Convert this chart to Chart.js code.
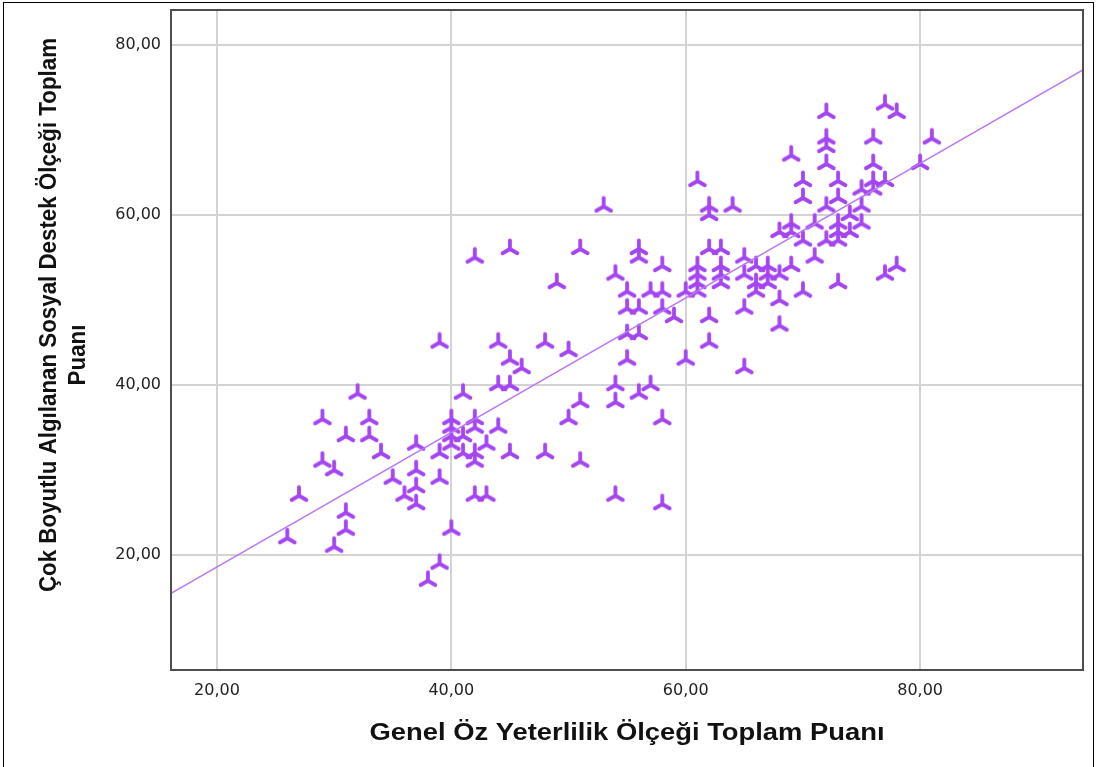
<!DOCTYPE html>
<html>
<head>
<meta charset="utf-8">
<script src="https://cdn.jsdelivr.net/npm/chart.js@4"></script>
<style>
  html, body { margin: 0; padding: 0; background: #fff; }
  #wrap { width: 1096px; height: 767px; }
</style>
</head>
<body>
<div id="wrap"><canvas id="scatter"></canvas></div>
<script>
// Genel Öz Yeterlilik (x) vs Çok Boyutlu Algılanan Sosyal Destek (y)
const selfEfficacy = [
  26, 27, 29, 29, 30, 30, 31, 31, 31, 32, 33, 33, 34, 35, 36, 37, 37, 37, 37, 38,
  39, 39, 39, 39, 40, 40, 40, 40, 40, 41, 41, 41, 42, 42, 42, 42, 42, 42, 43, 43,
  44, 44, 44, 45, 45, 45, 45, 46, 48, 48, 49, 50, 50, 51, 51, 51, 53, 54, 54, 54,
  54, 55, 55, 55, 55, 56, 56, 56, 56, 56, 57, 57, 58, 58, 58, 58, 58, 59, 60, 60,
  61, 61, 61, 61, 61, 62, 62, 62, 62, 62, 63, 63, 63, 63, 64, 65, 65, 65, 65, 66,
  66, 66, 67, 67, 67, 68, 68, 68, 68, 69, 69, 69, 69, 70, 70, 70, 70, 71, 71, 72,
  72, 72, 72, 72, 72, 73, 73, 73, 73, 73, 73, 74, 74, 75, 75, 75, 76, 76, 76, 76,
  77, 77, 77, 78, 78, 80, 81
];
const socialSupport = [
  22, 27, 36, 31, 30, 21, 34, 25, 23, 39, 36, 34, 32, 29, 27, 33, 30, 28, 26, 17,
  45, 32, 29, 19, 36, 35, 34, 33, 23, 39, 34, 32, 55, 36, 35, 32, 31, 27, 33, 27,
  45, 40, 35, 56, 43, 40, 32, 42, 45, 32, 52, 44, 36, 56, 38, 31, 61, 53, 40, 38,
  27, 51, 49, 46, 43, 56, 55, 49, 46, 39, 51, 40, 54, 51, 49, 36, 26, 48, 51, 43,
  64, 54, 53, 52, 51, 61, 60, 56, 48, 45, 56, 54, 53, 52, 61, 55, 53, 49, 42, 54,
  52, 51, 54, 53, 52, 58, 53, 50, 47, 67, 59, 58, 54, 64, 62, 57, 51, 59, 55, 72,
  69, 68, 66, 61, 57, 64, 62, 59, 58, 57, 52, 60, 58, 63, 61, 59, 69, 66, 64, 63,
  73, 64, 53, 72, 54, 66, 69
];
const xTicks = [20, 40, 60, 80];
const yTicks = [20, 40, 60, 80];
// fit line
const fitIntercept = 2.78;
const fitSlope = 0.791;

const xTitle = "Genel Öz Yeterlilik Ölçeği Toplam Puanı";
const yTitle = ["Çok Boyutlu Algılanan Sosyal Destek Ölçeği Toplam", "Puanı"];

const xMin = 16.08, xMax = 93.9;
const yMin = 6.5, yMax = 84.1;

const markerColor = "#a445f2";
const lineColor = "#b878f5";

// three armed marker (one arm up, two down)
function makeMarker() {
  const c = document.createElement("canvas");
  c.width = 24;
  c.height = 24;
  const g = c.getContext("2d");
  g.strokeStyle = markerColor;
  g.lineWidth = 3.8;
  g.lineCap = "round";
  const r = 8.5;
  g.beginPath();
  [-90, 30, 150].forEach((deg) => {
    const a = (deg * Math.PI) / 180;
    g.moveTo(12, 12);
    g.lineTo(12 + r * Math.cos(a), 12 + r * Math.sin(a));
  });
  g.stroke();
  return c;
}

const points = selfEfficacy.map((x, i) => ({ x: x, y: socialSupport[i] }));
const fitPoints = [xMin, xMax].map((x) => ({ x: x, y: fitIntercept + fitSlope * x }));

const commaFmt = (v) => v.toFixed(2).replace(".", ",");

function drawFitted(ctx, text, cx, cy, scaleX, angle) {
  ctx.save();
  ctx.translate(cx, cy);
  ctx.rotate(angle);
  ctx.scale(scaleX, 1);
  ctx.fillText(text, 0, 0);
  ctx.restore();
}

const framePlugin = {
  id: "frame",
  beforeDraw(chart) {
    const ctx = chart.ctx;
    ctx.save();
    ctx.fillStyle = "#fff";
    ctx.fillRect(0, 0, chart.width, chart.height);
    ctx.strokeStyle = "#000";
    ctx.lineWidth = 1;
    ctx.strokeRect(3.5, 2.5, chart.width - 6, chart.height + 10);
    ctx.restore();
  },
  afterDraw(chart) {
    const ctx = chart.ctx;
    const a = chart.chartArea;
    ctx.save();
    ctx.strokeStyle = "#4d4d4d";
    ctx.lineWidth = 2;
    ctx.strokeRect(a.left, a.top, a.right - a.left, a.bottom - a.top);

    ctx.fillStyle = "#111";
    ctx.textAlign = "center";
    ctx.textBaseline = "middle";
    ctx.font = "bold 24px 'Liberation Sans', Arial, sans-serif";
    let w = ctx.measureText(xTitle).width;
    drawFitted(ctx, xTitle, (a.left + a.right) / 2, 733, 515 / w, 0);

    w = ctx.measureText(yTitle[0]).width;
    const s = 554 / w;
    drawFitted(ctx, yTitle[0], 49, 315, s, -Math.PI / 2);
    drawFitted(ctx, yTitle[1], 78, 355, s, -Math.PI / 2);
    ctx.restore();
  },
};

new Chart("scatter", {
  type: "scatter",
  data: {
    datasets: [
      {
        type: "line",
        data: fitPoints,
        borderColor: lineColor,
        borderWidth: 1.5,
        pointRadius: 0,
        fill: false,
      },
      {
        data: points,
        pointStyle: makeMarker(),
        pointRadius: 8,
        pointHoverRadius: 8,
      },
    ],
  },
  options: {
    responsive: true,
    maintainAspectRatio: false,
    animation: false,
    layout: { autoPadding: false, padding: { left: 0, top: 10, right: 13, bottom: 0 } },
    plugins: {
      legend: { display: false },
      tooltip: { enabled: false },
    },
    scales: {
      x: {
        type: "linear",
        min: xMin,
        max: xMax,
        afterBuildTicks: (scale) => {
          scale.ticks = xTicks.map((v) => ({ value: v }));
        },
        afterFit: (scale) => {
          scale.height = 97;
          scale.paddingLeft = 0;
          scale.paddingRight = 0;
        },
        grid: { color: "#d3d3d3", lineWidth: 2, drawTicks: false },
        border: { display: false },
        ticks: {
          padding: 11,
          color: "#222",
          font: { family: "'DejaVu Sans'", size: 16 },
          callback: commaFmt,
          maxRotation: 0,
        },
      },
      y: {
        type: "linear",
        min: yMin,
        max: yMax,
        afterBuildTicks: (scale) => {
          scale.ticks = yTicks.map((v) => ({ value: v }));
        },
        afterFit: (scale) => {
          scale.width = 171;
          scale.paddingTop = 0;
          scale.paddingBottom = 0;
        },
        grid: { color: "#d3d3d3", lineWidth: 2, drawTicks: false },
        border: { display: false },
        ticks: {
          padding: 10,
          color: "#222",
          font: { family: "'DejaVu Sans'", size: 16 },
          callback: commaFmt,
        },
      },
    },
  },
  plugins: [framePlugin],
});
</script>
</body>
</html>
